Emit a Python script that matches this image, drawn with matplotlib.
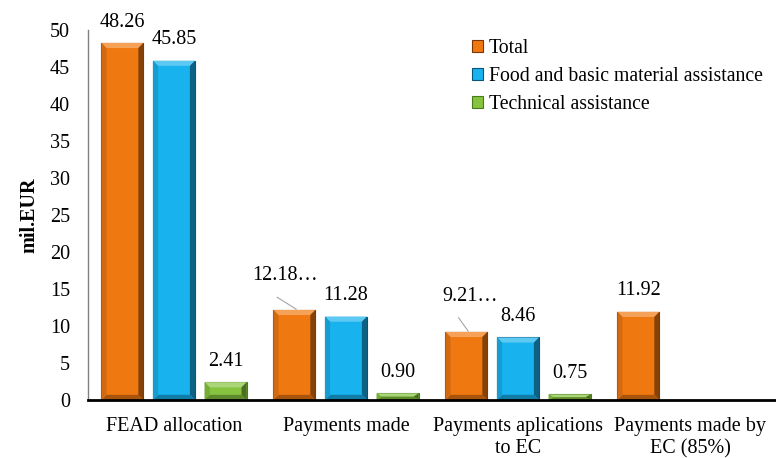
import matplotlib
matplotlib.use("Agg")
import matplotlib.pyplot as plt
import numpy as np
from matplotlib.patches import Patch, Polygon
from matplotlib.colors import to_rgb

plt.rcParams['font.family'] = ['Liberation Serif', 'DejaVu Serif']

categories = ["FEAD allocation", "Payments made", "Payments aplications\nto EC", "Payments made by\nEC (85%)"]
series_names = ["Total", "Food and basic material assistance", "Technical assistance"]
total = [48.26, 12.18, 9.21, 11.92]
food = [45.85, 11.28, 8.46, None]
technical = [2.41, 0.90, 0.75, None]
total_labels = ["48.26", "12.18…", "9.21…", "11.92"]
food_labels = ["45.85", "11.28", "8.46", None]
tech_labels = ["2.41", "0.90", "0.75", None]
yticks = [0, 5, 10, 15, 20, 25, 30, 35, 40, 45, 50]

colors = ["#F07811", "#18B2EE", "#86C43F"]
edges = ["#7A3604", "#0A5478", "#4A7A1C"]

FS = 14.5

fig = plt.figure(figsize=(7.76, 4.58), dpi=100)
ax = fig.add_axes([88/776, 1-400/458, 1-88/776, 370/458])


def shade(c, f):
    r, g, b = to_rgb(c)
    if f >= 0:
        return (r + (1 - r) * f, g + (1 - g) * f, b + (1 - b) * f)
    f = -f
    return (r * (1 - f), g * (1 - f), b * (1 - f))


def bevel(bar, color):
    x0 = bar.get_x()
    w = bar.get_width()
    h = bar.get_height()
    bx = 0.03
    by = min(0.7, h / 2)
    x1 = x0 + w
    pieces = [
        ([(x0, h), (x1, h), (x1 - bx, h - by), (x0 + bx, h - by)], shade(color, 0.3)),
        ([(x1, h), (x1, 0), (x1 - bx, by), (x1 - bx, h - by)], shade(color, -0.45)),
        ([(x0, 0), (x1, 0), (x1 - bx, by), (x0 + bx, by)], shade(color, -0.3)),
        ([(x0, h), (x0, 0), (x0 + bx, by), (x0 + bx, h - by)], shade(color, -0.12)),
    ]
    for pts, c in pieces:
        ax.add_patch(Polygon(pts, closed=True, facecolor=c, edgecolor="none", zorder=2.5))


x = np.arange(len(categories))
off = 0.30
w = 0.245
series = [total, food, technical]
labels = [total_labels, food_labels, tech_labels]
for i, (vals, labs) in enumerate(zip(series, labels)):
    for j, v in enumerate(vals):
        if v is None:
            continue
        xp = x[j] + (i - 1) * off
        bars = ax.bar(xp, v, width=w, color=colors[i], edgecolor=edges[i], linewidth=0.8, zorder=2)
        bevel(bars[0], colors[i])
        lab = labs[j]
        if lab.endswith("…"):
            if j == 1:
                tx, ty = xp - 0.055, v + 4.7
                lx0, ly0 = xp - 0.10, v + 1.7
            else:
                tx, ty = xp + 0.02, v + 4.8
                lx0, ly0 = xp - 0.045, v + 1.9
            ax.plot([lx0, xp + 0.01], [ly0, v + 0.1], color="#A6A6A6", lw=0.8, zorder=3)
            ax.text(tx, ty, lab, ha="center", va="center", fontsize=FS)
        else:
            ax.annotate(lab, (xp, v), xytext=(0, 15), textcoords="offset points",
                        ha="center", va="center", fontsize=FS)

ax.set_xlim(-0.5, 3.5)
ax.set_ylim(0, 50)
ax.set_yticks(yticks)
ax.set_yticklabels([str(t) for t in yticks], fontsize=FS)
ax.set_xticks(x)
ax.set_xticklabels(categories, fontsize=FS, linespacing=1.25)
ax.tick_params(axis='x', length=0, pad=12)
ax.tick_params(axis='y', length=0, pad=13)
for s in ["top", "right"]:
    ax.spines[s].set_visible(False)
ax.spines["left"].set_color("#808080")
ax.spines["left"].set_linewidth(1.0)
ax.spines["bottom"].set_color("black")
ax.spines["bottom"].set_linewidth(2.0)
ax.set_ylabel("mil.EUR", fontsize=FS, fontweight="bold", labelpad=7.5)

handles = [Patch(facecolor=colors[i], edgecolor=edges[i], linewidth=0.8) for i in range(3)]
ax.legend(handles, series_names, loc="upper left", bbox_to_anchor=(0.538, 1.012),
          frameon=False, fontsize=14.2, handlelength=0.55, handleheight=0.55,
          handletextpad=0.3, labelspacing=0.45, borderaxespad=0.3)

fig.savefig("out.png", dpi=100)
